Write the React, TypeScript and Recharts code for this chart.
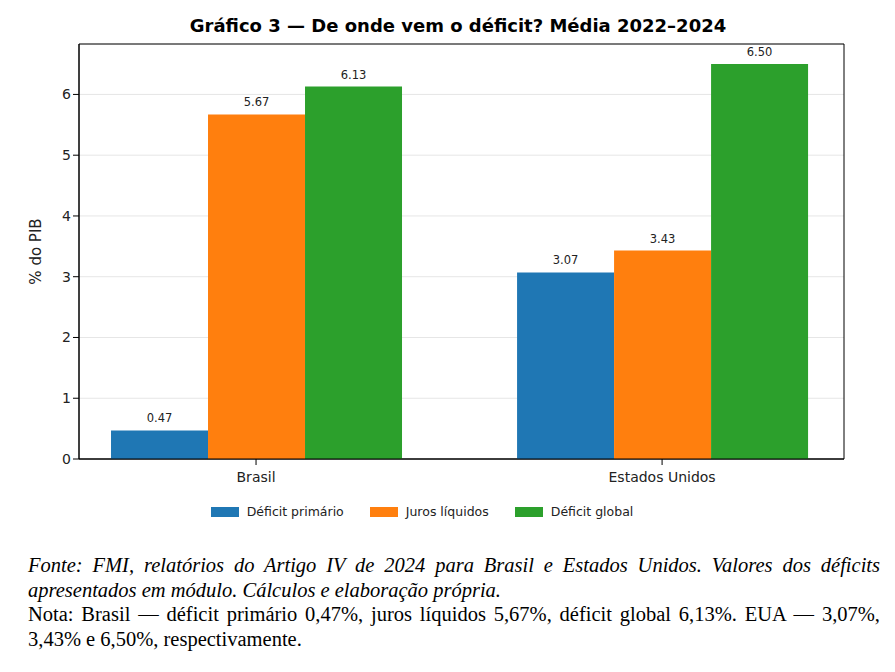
import { Bar, BarChart, CartesianGrid, LabelList, Legend, ReferenceArea, XAxis, YAxis } from "recharts";

const categories = ["Brasil", "Estados Unidos"];
const primario = [0.47, 3.07];
const juros = [5.67, 3.43];
const global = [6.13, 6.5];
const yTicks = [0, 1, 2, 3, 4, 5, 6];

const data = categories.map((name, i) => ({
  x: i,
  name,
  primario: primario[i],
  juros: juros[i],
  global: global[i],
}));

const series = [
  { key: "primario", label: "Déficit primário", color: "#1f77b4" },
  { key: "juros", label: "Juros líquidos", color: "#ff7f0e" },
  { key: "global", label: "Déficit global", color: "#2ca02c" },
];

const font = "DejaVu Sans, sans-serif";

function LegendBox() {
  return (
    <div style={{ display: "flex", justifyContent: "center", gap: 26, fontFamily: font, fontSize: 12.5, color: "#222", paddingTop: 10 }}>
      {series.map((s) => (
        <div key={s.key} style={{ display: "flex", alignItems: "center", gap: 8 }}>
          <span style={{ width: 28, height: 10, background: s.color, display: "inline-block" }} />
          {s.label}
        </div>
      ))}
    </div>
  );
}

export default function App() {
  return (
    <div style={{ position: "absolute", left: 0, top: 0, width: 895, height: 672, background: "#fff" }}>
      <div style={{ position: "absolute", top: 15, width: 916, textAlign: "center", fontFamily: font, fontWeight: 700, fontSize: 18 }}>
        Gráfico 3 — De onde vem o déficit? Média 2022–2024
      </div>
      <BarChart
        width={895}
        height={530}
        data={data}
        margin={{ top: 44, right: 51, left: 0, bottom: 0 }}
        barGap={0}
        barSize={97}
        style={{ fontFamily: font }}
      >
        <CartesianGrid vertical={false} stroke="#e6e6e6" />
        <XAxis
          dataKey="x"
          type="number"
          domain={[-0.436, 1.448]}
          ticks={[0, 1]}
          tickFormatter={(v: number) => categories[v]}
          height={35}
          tick={{ fontSize: 14, fill: "#222", dy: 5 }}
          tickLine={{ stroke: "#000" }}
          axisLine={{ stroke: "#000" }}
          allowDataOverflow
        />
        <YAxis
          width={79}
          domain={[0, 6.83]}
          ticks={yTicks}
          tick={{ fontSize: 14, fill: "#222" }}
          tickLine={{ stroke: "#000" }}
          axisLine={{ stroke: "#000" }}
          label={{ value: "% do PIB", angle: -90, position: "insideLeft", offset: 36, style: { fontSize: 15, fill: "#222", textAnchor: "middle" } }}
          allowDataOverflow
        />
        <ReferenceArea x1={-0.436} x2={1.448} y1={0} y2={6.83} fill="none" stroke="#000" strokeWidth={1} ifOverflow="visible" />
        {series.map((s) => (
          <Bar key={s.key} dataKey={s.key} fill={s.color} isAnimationActive={false}>
            <LabelList dataKey={s.key} position="top" offset={8} formatter={(v: number) => v.toFixed(2)} style={{ fontSize: 11.5, fill: "#222" }} />
          </Bar>
        ))}
        <Legend verticalAlign="bottom" height={36} content={() => <LegendBox />} />
      </BarChart>
      <div
        style={{
          position: "absolute",
          top: 553,
          left: 28,
          width: 852,
          fontFamily: "Liberation Serif, serif",
          fontSize: 20.5,
          lineHeight: "24.5px",
          textAlign: "justify",
          color: "#000",
        }}
      >
        <div style={{ fontStyle: "italic" }}>
          Fonte: FMI, relatórios do Artigo IV de 2024 para Brasil e Estados Unidos. Valores dos déficits apresentados em módulo. Cálculos e elaboração própria.
        </div>
        <div>
          Nota: Brasil — déficit primário 0,47%, juros líquidos 5,67%, déficit global 6,13%. EUA — 3,07%, 3,43% e 6,50%, respectivamente.
        </div>
      </div>
    </div>
  );
}
